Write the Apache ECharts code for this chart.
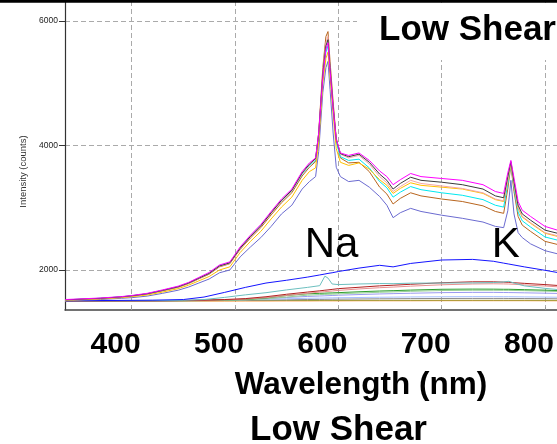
<!DOCTYPE html>
<html><head><meta charset="utf-8">
<script src="https://cdn.jsdelivr.net/npm/echarts@6/dist/echarts.min.js"></script>
<style>html,body{margin:0;padding:0;background:#fff}#c{width:557px;height:444px}</style>
</head><body><div id="c"></div>
<script>
// ---- data ----
const wavelengthHigh = [336,350,370,390,400,415,430,445,455,465,475,485,495,505,515,525,535,545,555,565,572,578,581,585,588,590,592,595,598,602,610,620,630,640,647,653,660,670,680,700,720,740,752,760,764,767,770,774,778,786,800,812,822];
const magentaRun = [1525,1535,1550,1572,1590,1625,1680,1740,1800,1880,1960,2080,2130,2370,2560,2730,2940,3140,3300,3580,3720,3800,4200,5100,5550,5650,5200,4600,4100,3880,3840,3880,3760,3590,3500,3370,3450,3550,3500,3470,3440,3370,3260,3230,3560,3760,3480,3100,2960,2860,2700,2640,2580];
const blackRun = [1520,1530,1545,1568,1585,1618,1672,1730,1790,1868,1945,2065,2115,2350,2540,2710,2920,3120,3280,3560,3700,3790,4180,5150,5600,5700,5250,4620,4100,3870,3820,3860,3730,3540,3440,3300,3390,3490,3440,3410,3370,3300,3190,3160,3500,3740,3420,3040,2900,2800,2640,2590,2530];
const pinkRun = [1518,1528,1542,1565,1582,1615,1668,1725,1785,1860,1940,2058,2105,2340,2530,2700,2910,3110,3270,3550,3690,3780,4200,5200,5650,5750,5300,4650,4120,3860,3800,3840,3700,3500,3400,3260,3340,3440,3390,3350,3310,3240,3140,3110,3450,3720,3380,3000,2860,2760,2600,2550,2490];
const goldRun = [1515,1522,1535,1555,1570,1598,1645,1700,1755,1825,1895,2000,2050,2280,2460,2620,2820,3010,3170,3440,3580,3640,4050,5000,5400,5500,5100,4500,3950,3730,3680,3720,3620,3450,3360,3230,3310,3400,3360,3330,3300,3230,3130,3100,3440,3700,3370,2990,2850,2750,2590,2540,2480];
const cyanRun = [1520,1530,1546,1568,1584,1618,1672,1730,1790,1868,1945,2065,2115,2350,2540,2710,2915,3110,3270,3540,3680,3760,4150,5050,5500,5600,5150,4550,4050,3820,3760,3780,3640,3420,3320,3170,3250,3340,3290,3240,3200,3130,3040,3010,3380,3700,3320,2930,2790,2690,2530,2480,2420];
const brownRun = [1518,1527,1542,1563,1580,1612,1664,1722,1780,1857,1932,2050,2100,2330,2515,2680,2885,3080,3240,3510,3650,3740,4200,5250,5750,5830,5350,4700,4100,3800,3720,3730,3580,3330,3220,3060,3150,3240,3190,3140,3100,3030,2940,2910,3300,3680,3260,2860,2720,2620,2460,2410,2350];
const slateRun = [1505,1512,1525,1545,1555,1580,1625,1675,1725,1790,1855,1955,2000,2210,2370,2520,2700,2900,3040,3300,3420,3500,3900,4850,5250,5350,4900,4200,3650,3500,3420,3440,3330,3180,3040,2840,2920,2990,2940,2880,2830,2770,2700,2680,2950,3440,2900,2600,2520,2420,2310,2260,2210];

const wavelengthLow = [336,380,420,450,470,490,510,530,550,570,582,587,590,594,600,620,640,653,670,700,730,750,760,765,770,780,800,822];
const blueRun = [1505,1510,1515,1525,1565,1640,1720,1790,1835,1885,1920,1935,1945,1955,1975,2030,2075,2050,2105,2160,2170,2140,2110,2095,2080,2050,1995,1930];
const tealRun = [1505,1505,1508,1512,1525,1560,1600,1635,1680,1720,1748,1900,1870,1775,1765,1775,1782,1780,1788,1790,1792,1798,1808,1818,1790,1745,1705,1670];
const darkRedRun = [1500,1502,1505,1510,1515,1525,1540,1570,1610,1645,1665,1675,1680,1688,1700,1722,1745,1755,1770,1795,1810,1810,1805,1802,1795,1785,1765,1740];
const lightRedRun = [1500,1500,1503,1507,1512,1520,1532,1555,1590,1625,1645,1652,1656,1662,1672,1695,1715,1725,1740,1762,1775,1778,1776,1774,1770,1760,1742,1720];
const greenRun = [1500,1502,1505,1508,1512,1518,1528,1550,1590,1618,1625,1628,1630,1632,1636,1650,1662,1668,1677,1690,1693,1692,1690,1690,1688,1684,1676,1665];
const lightGreenRun = [1500,1501,1503,1505,1508,1512,1520,1535,1565,1595,1605,1608,1610,1612,1616,1630,1642,1648,1657,1670,1674,1674,1673,1673,1671,1668,1660,1650];
const lavenderRun = [1500,1502,1505,1510,1515,1522,1530,1542,1558,1575,1582,1585,1587,1590,1594,1605,1615,1620,1626,1636,1640,1640,1638,1637,1636,1633,1627,1620];
const lightBlueRun = [1502,1504,1507,1510,1513,1518,1523,1530,1538,1545,1548,1550,1551,1552,1554,1558,1562,1564,1567,1570,1572,1572,1571,1571,1570,1568,1565,1560];
const grayRun = [1500,1502,1504,1506,1508,1510,1513,1517,1521,1525,1527,1528,1529,1530,1531,1534,1537,1538,1540,1542,1543,1543,1543,1542,1542,1541,1539,1536];
const oliveRun = [1506,1506,1507,1507,1508,1508,1509,1509,1510,1510,1510,1511,1511,1511,1511,1512,1512,1512,1512,1513,1513,1513,1513,1513,1513,1513,1512,1512];
const orangeRun = [1500,1500,1501,1501,1502,1502,1503,1503,1504,1504,1505,1505,1505,1505,1505,1506,1506,1506,1506,1507,1507,1507,1507,1507,1507,1507,1506,1506];

const xTicks = [400,500,600,700,800];
const yTicks = [2000,4000,6000];
const annotations = [{name:'Na', coord:[593.5, 2400]}, {name:'K', coord:[762, 2400]}];

// ---- chart ----
const FONT = 'Liberation Sans, Arial, Helvetica, sans-serif';
function mk(ws, vs, color, extra) {
  return Object.assign({
    type: 'line', symbol: 'none', showSymbol: false, animation: false, silent: true,
    data: ws.map((w, i) => [w, vs[i]]),
    lineStyle: { width: 1, color: color }, itemStyle: { color: color }
  }, extra || {});
}
const series = [
  mk(wavelengthLow, orangeRun, '#ff7f0e'),
  mk(wavelengthLow, oliveRun, '#a0a040'),
  mk(wavelengthLow, grayRun, '#8c8c8c'),
  mk(wavelengthLow, lightBlueRun, '#a8c0ff'),
  mk(wavelengthLow, lavenderRun, '#9a9af0'),
  mk(wavelengthLow, lightGreenRun, '#96cf96'),
  mk(wavelengthLow, greenRun, '#2e9e2e'),
  mk(wavelengthLow, lightRedRun, '#e89090'),
  mk(wavelengthLow, darkRedRun, '#b22222'),
  mk(wavelengthLow, tealRun, '#6cbfbf'),
  mk(wavelengthLow, blueRun, '#1414ff'),
  mk(wavelengthHigh, slateRun, '#6b6bd0'),
  mk(wavelengthHigh, brownRun, '#b8651e'),
  mk(wavelengthHigh, cyanRun, '#00e8f0'),
  mk(wavelengthHigh, goldRun, '#ffc000'),
  mk(wavelengthHigh, pinkRun, '#f4a6a6'),
  mk(wavelengthHigh, blackRun, '#3a3a3a'),
  mk(wavelengthHigh, magentaRun, '#ff00ff', {
    markPoint: {
      symbol: 'circle', symbolSize: 1, silent: true, animation: false,
      itemStyle: { color: 'rgba(0,0,0,0)' },
      label: { show: true, position: 'inside', formatter: '{b}', fontSize: 42, color: '#000', fontFamily: FONT },
      data: annotations.map(a => ({ name: a.name, coord: a.coord }))
    }
  })
];

const chart = echarts.init(document.getElementById('c'), null, { renderer: 'canvas' });
chart.setOption({
  backgroundColor: '#fff',
  animation: false,
  title: [
    { text: 'Low Shear', left: 357, top: 3, padding: [10, 30, 12, 22], backgroundColor: '#fff',
      textStyle: { fontSize: 35, fontWeight: 'bold', color: '#000', fontFamily: FONT } },
    { text: 'Low Shear', left: 250, top: 413, padding: 0,
      textStyle: { fontSize: 35, fontWeight: 'bold', color: '#000', fontFamily: FONT } }
  ],
  grid: { left: 65, top: 1, width: 502, height: 309, containLabel: false, outerBoundsMode: 'none' },
  xAxis: {
    type: 'value', min: 335.5, max: 821.3, splitNumber: 5,
    name: 'Wavelength (nm)', nameLocation: 'middle', nameGap: 59,
    nameTextStyle: { fontSize: 31.5, fontWeight: 'bold', color: '#000', fontFamily: FONT, padding: [0, 0, 0, 90] },
    axisLine: { show: true, onZero: false, lineStyle: { color: '#444', width: 1.5 } },
    axisTick: { show: true, inside: true, length: 3, lineStyle: { color: '#999' }, customValues: xTicks },
    axisLabel: { show: true, customValues: xTicks, margin: 20, formatter: v => String(v),
      fontSize: 30, fontWeight: 'bold', color: '#000', fontFamily: FONT, padding: [0, 32, 0, 0] },
    splitLine: { show: true, lineStyle: { color: '#aaaaaa', type: [5, 3], width: 1 } }
  },
  yAxis: {
    type: 'value', min: 1357, max: 6321, splitNumber: 2,
    name: 'Intensity (counts)', nameLocation: 'middle', nameRotate: 90, nameGap: 22,
    nameTextStyle: { fontSize: 9.5, color: '#333', fontFamily: FONT, padding: [0, 32, 0, 0] },
    axisLine: { show: true, onZero: false, lineStyle: { color: '#333', width: 1.2 } },
    axisTick: { show: true, inside: false, length: 6, lineStyle: { color: '#333' }, customValues: yTicks },
    axisLabel: { show: true, customValues: yTicks, margin: 7, formatter: v => String(v),
      fontSize: 8.5, color: '#222', fontFamily: FONT },
    splitLine: { show: true, lineStyle: { color: '#aaaaaa', type: [5, 3], width: 1 } }
  },
  graphic: [
    { type: 'rect', left: 0, top: 0, z: 100, shape: { width: 557, height: 2.7 }, style: { fill: '#000' } }
  ],
  series: series
});
</script>
</body></html>
